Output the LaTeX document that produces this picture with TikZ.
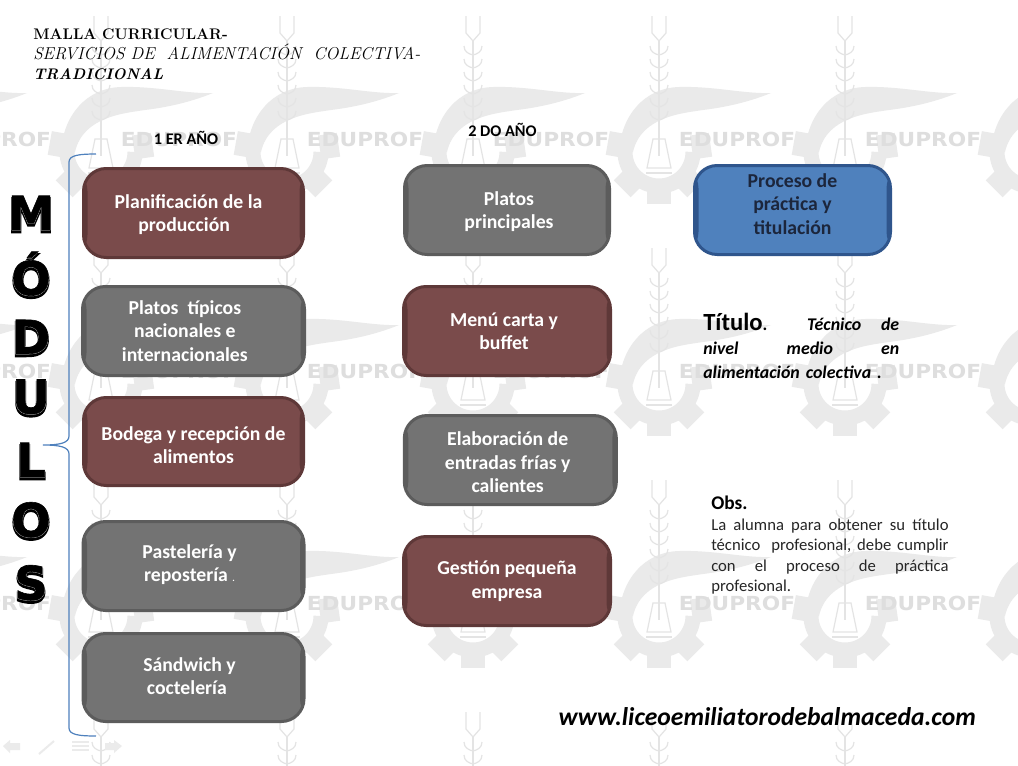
\documentclass[tikz,border=0pt]{standalone}
\usepackage{fontspec}
\usepackage{xcolor}
\usetikzlibrary{positioning}
\newfontfamily\calfont{Carlito}
\newfontfamily\heavyfont[FakeBold=1.3]{DejaVu Sans Bold}
\newfontfamily\heavyfonta[FakeBold=4.5]{DejaVu Sans Bold}
\newfontfamily\heavyfontb[FakeBold=2.3]{DejaVu Sans Bold}
\newfontfamily\markfont[FakeStretch=1.12]{DejaVu Sans Bold}
\definecolor{modred}{RGB}{122,75,75}
\definecolor{modrededge}{RGB}{94,56,56}
\definecolor{modgrey}{RGB}{115,115,115}
\definecolor{modgreyedge}{RGB}{92,92,92}
\definecolor{modblue}{RGB}{79,129,189}
\definecolor{modblueedge}{RGB}{47,85,140}
\definecolor{modink}{RGB}{28,38,60}
\definecolor{bracelin}{RGB}{79,129,189}
\definecolor{markgrey}{RGB}{234,234,234}
\definecolor{markline}{RGB}{228,228,228}
\definecolor{marktext}{RGB}{222,222,222}
\newcommand{\modletter}[1]{\rlap{\raisebox{-1.8pt}{\heavyfonta\color{black}#1}}\rlap{\heavyfontb\color{white}#1}{\heavyfont\color{black}#1}}
\tikzset{
  modbox/.style 2 args={rectangle, rounded corners=17pt, line width=2.25pt, draw=#2, fill=#1,
    align=center, inner sep=0pt, text=white, font=\calfont\bfseries\fontsize{14.8}{17.6}\selectfont,
    path picture={
      \fill[#2] (path picture bounding box.south west) rectangle ([xshift=3pt]path picture bounding box.north west);
      \fill[#2] (path picture bounding box.south east) rectangle ([xshift=-3pt]path picture bounding box.north east);}},
  redbox/.style={modbox={modred}{modrededge}},
  greybox/.style={modbox={modgrey}{modgreyedge}},
  bluebox/.style={modbox={modblue}{modblueedge}, text=modink},
  boxsize/.style 2 args={minimum width=#1*.75pt, minimum height=#2*.75pt},
  yearlabel/.style={font=\calfont\bfseries\fontsize{12.2}{14}\selectfont},
  letternode/.style={inner sep=0pt, font=\heavyfont\fontsize{35}{35}\selectfont},
  marktxt/.style={text=marktext, inner sep=0pt, font=\markfont\fontsize{14.5}{15}\selectfont},
  markpic/.pic={
    % wing and gear
    \fill[markgrey] (-40,136) .. controls (-38,100) and (-15,72) .. (20,71)
      .. controls (55,70) and (85,78) .. (112,77)
      .. controls (85,88) and (60,92) .. (44,94)
      .. controls (25,97) and (-18,100) .. (-26,136) -- cycle;
    \draw[markgrey, line width=11.25pt] (34,136) arc[start angle=0, end angle=190, radius=34];
    \foreach \ang in {-8,45,90,135,190}
      \fill[markgrey, shift={(0,136)}, rotate=-\ang] (33,-12) rectangle (52,12);
    % fork and stem
    \draw[markline, line width=.9pt] (-7,0) -- (-7,17) -- (0,25) -- (7,17) -- (7,0);
    \draw[markline, line width=.9pt] (0,25) -- (0,132);
    \foreach \yy in {30,43,56,69,82,95} {
      \draw[markline, line width=.9pt] (-9,\yy) .. controls (-9,\yy+6) and (-4,\yy+8) .. (0,\yy+9);
      \draw[markline, line width=.9pt] (9,\yy) .. controls (9,\yy+6) and (4,\yy+8) .. (0,\yy+9);
    }
    % bell
    \draw[markline, line width=.9pt, fill=white] (-6,123) -- (6,123) -- (12,152)
      -- (-12,152) -- cycle;
    \draw[markline, line width=.9pt] (-13,157) -- (13,157);
    \draw[markline, line width=.9pt] (0,115) -- (0,140);
  },
}
\begin{document}
\begin{tikzpicture}[x=.75pt, y=-.75pt]
\useasboundingbox (0,0) rectangle (1018,765);
\fill[white] (0,0) rectangle (1018,765);

\begin{scope}
\clip (0,0) rectangle (1018,765);
\foreach \yy in {16,248,480,712}
  \foreach \xx in {-85,101,287,473,659,845,1031} {
    \pic at (\xx,\yy) {markpic};
    \node[marktxt] (mark\xx\yy) at (\xx+78,\yy+123) {EDUPROF};
  }
\end{scope}

% heading
\node[anchor=north west, align=left, inner sep=0pt,
  font=\fontsize{11.5}{15}\selectfont] (heading) at (33,28) {%
  {\bfseries MALLA CURRICULAR-}\\
  {\itshape\fontsize{12.9}{15}\selectfont SERVICIOS DE\ \ ALIMENTACIÓN\ \ COLECTIVA-}\\
  {\bfseries\itshape TRADICIONAL}};

\node[yearlabel] (year1) at (186,138) {1 ER AÑO};
\node[yearlabel] (year2) at (502.5,130) {2 DO AÑO};

% first year
\node[redbox, boxsize={220}{89}] (plan) at (193.5,213)
  {\rule{0pt}{13pt}\hspace*{-7.5pt}Planificación de la\\\hspace*{-14pt}producción};
\node[greybox, boxsize={222}{89}, below=19.5pt of plan] (tipicos)
  {\hspace*{-13pt}Platos\ \ típicos\\\hspace*{-13pt}nacionales e\\\hspace*{-13pt}internacionales};
\node[redbox, boxsize={220}{88}, below=14.25pt of tipicos] (bodega)
  {\rule{0pt}{16pt}Bodega y recepción de\\alimentos};
\node[greybox, boxsize={221}{89}, below=24.75pt of bodega] (pasteleria)
  {\hspace*{-6pt}Pastelería y\\\hspace*{-6pt}repostería {\fontsize{7}{8}\selectfont .}\rule[-4.5pt]{0pt}{0pt}};
\node[greybox, boxsize={221}{88}, below=15pt of pasteleria] (sandwich)
  {\hspace*{-6pt}Sándwich y\\\hspace*{-10pt}coctelería\rule[-2pt]{0pt}{0pt}};

% second year
\node[greybox, boxsize={205}{89}] (platos) at (507,210)
  {\rule{0pt}{13pt}\hspace*{3pt}Platos\\\hspace*{3pt}principales};
\node[redbox, boxsize={207}{89}, below=21.75pt of platos] (menu)
  {\hspace*{-4.5pt}Menú carta y\\\hspace*{-4.5pt}buffet};
\node[greybox, boxsize={212}{89}, below=27.75pt of menu, xshift=2.5pt] (entradas)
  {\rule{0pt}{14pt}\hspace*{-4pt}Elaboración de\\\hspace*{-4pt}entradas frías y\\\hspace*{-4pt}calientes};
\node[redbox, boxsize={207}{89}, below=21.75pt of entradas, xshift=-2.5pt] (gestion)
  {Gestión pequeña\\empresa};

% titling
\node[bluebox, boxsize={196}{89}] (proceso) at (792.5,210)
  {Proceso de\\práctica y\\titulación\rule[-9.5pt]{0pt}{0pt}};
\node[anchor=north west, align=left, inner sep=0pt, text width=147pt,
  font=\calfont\bfseries\fontsize{13.4}{18}\selectfont] (titulo) at (703,313) {%
  {\fontsize{18.5}{18}\selectfont Título}.\hfill\hfill\textit{Técnico}\hfill\textit{de}\\
  \textit{nivel}\hfill\textit{medio}\hfill\textit{en}\\
  \textit{alimentación colectiva .}};
\node[anchor=north west, align=left, inner sep=0pt, text width=178pt, text=black!85,
  font=\calfont\fontsize{12.5}{15.4}\selectfont] (obs) at (711,496) {%
  {\bfseries\color{black}\fontsize{14.5}{16}\selectfont Obs.}\\
  La\hfill alumna\hfill para\hfill obtener\hfill su\hfill título\\
  técnico\ \ profesional,\hfill debe\hfill cumplir\\
  con\hfill el\hfill proceso\hfill de\hfill práctica\\
  profesional.};
\node[anchor=east, inner sep=0pt, font=\calfont\bfseries\itshape\fontsize{19.2}{21}\selectfont]
  (web) at (976,717) {www.liceoemiliatorodebalmaceda.com};

% side label
\node[letternode] (letm) at (31,214) {\modletter{M}};
\node[letternode, anchor=base] (leto) at (31,295) {\modletter{Ó}};
\node[letternode] (letd) at (31,338) {\modletter{D}};
\node[letternode] (letu) at (31,398) {\modletter{U}};
\node[letternode] (letl) at (31,461) {\modletter{L}};
\node[letternode] (letoo) at (31,521) {\modletter{O}};
\node[letternode] (lets) at (31,584) {\modletter{S}};

% brace
\coordinate (bracetop) at (96,154);
\coordinate (bracetip) at (43,445);
\coordinate (bracebot) at (96,736);
\draw[bracelin, line width=.9pt] (bracetop) .. controls (80,154) and (69,155) .. (69,162)
  -- (69,436) .. controls (69,443) and (60,445) .. (bracetip)
  .. controls (60,445) and (69,447) .. (69,454)
  -- (69,728) .. controls (69,735) and (80,736) .. (bracebot);

% slide buttons
\fill[black!8] (3,746) -- (10,740) -- (10,743) -- (20,743) -- (20,750) -- (10,750) -- (10,753) -- cycle;
\draw[black!8, line width=1.5pt] (39,754) -- (54,741);
\foreach \yy in {742,746,750}
  \draw[black!8, line width=1.5pt] (72,\yy) -- (89,\yy);
\fill[black!8] (122,746) -- (114,740) -- (114,743) -- (105,743) -- (105,750) -- (114,750) -- (114,753) -- cycle;
\end{tikzpicture}
\end{document}
